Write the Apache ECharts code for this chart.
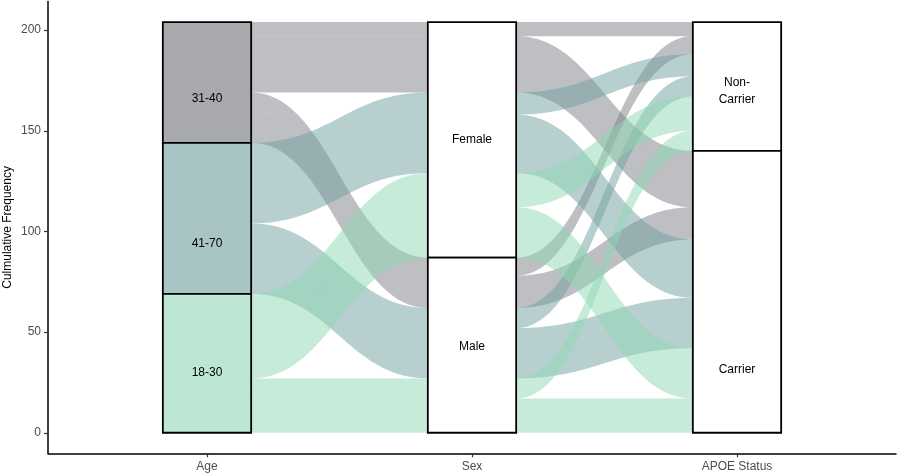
<!DOCTYPE html>
<html><head><meta charset="utf-8">
<script src="https://cdn.jsdelivr.net/npm/echarts@6/dist/echarts.min.js"></script>
<style>html,body{margin:0;padding:0;background:#fff}#c{width:899px;height:476px}</style>
</head><body><div id="c"></div>
<script>
const axisNames = ['Age', 'Sex', 'APOE Status'];
const ageLevels = ['31-40', '41-70', '18-30'];
const sexLevels = ['Female', 'Male'];
const apoeLevels = ['Non-\nCarrier', 'Carrier'];
// counts per age group: Female/Non-Carrier, Female/Carrier, Male/Non-Carrier, Male/Carrier
const counts3140 = [7, 28, 9, 16];
const counts4170 = [11, 29, 10, 25];
const counts1830 = [17, 25, 10, 17];
const yTicks = [0, 50, 100, 150, 200];
// label anchor heights
const ageLabelY = [166, 94, 30];
const sexLabelY = [145.5, 43];
const apoeLabelY = [169.5, 31.5];

const ageFill = ['#a8a9ad', '#a8c4c4', '#bde7d3'];
const flowFill = ['rgba(126,127,134,0.5)', 'rgba(113,159,161,0.5)', 'rgba(141,217,179,0.5)'];
const W = 1/3;
const K = 0.45;

const countsByAge = [counts3140, counts4170, counts1830];
const alluvia = [];
countsByAge.forEach((arr, a) => {
  arr.forEach((n, k) => { alluvia.push({a: a, s: Math.floor(k / 2), p: k % 2, n: n}); });
});
const total = alluvia.reduce((t, d) => t + d.n, 0);
const keyFns = [d => [d.a, d.s, d.p], d => [d.s, d.a, d.p], d => [d.p, d.a, d.s]];
const pos = alluvia.map(() => [null, null, null]);
keyFns.forEach((kf, ax) => {
  const idx = alluvia.map((d, i) => i).sort((i, j) => {
    const A = kf(alluvia[i]), B = kf(alluvia[j]);
    for (let t = 0; t < 3; t++) { if (A[t] !== B[t]) return A[t] - B[t]; }
    return 0;
  });
  let top = total;
  idx.forEach(i => { pos[i][ax] = [top, top - alluvia[i].n]; top -= alluvia[i].n; });
});

// flows
const flowData = [];
alluvia.forEach((d, i) => {
  for (let seg = 0; seg < 2; seg++) {
    flowData.push([seg + W / 2, seg + 1 - W / 2, pos[i][seg][0], pos[i][seg][1], pos[i][seg + 1][0], pos[i][seg + 1][1], d.a]);
  }
});

// strata
const strata = [];
const fields = ['a', 's', 'p'];
const levelSets = [ageLevels, sexLevels, apoeLevels];
const labelSets = [ageLabelY, sexLabelY, apoeLabelY];
levelSets.forEach((levels, ax) => {
  let top = total;
  levels.forEach((name, li) => {
    const n = alluvia.filter(d => d[fields[ax]] === li).reduce((t, d) => t + d.n, 0);
    strata.push({ax: ax, top: top, bottom: top - n, name: name, labelY: labelSets[ax][li], fill: ax === 0 ? ageFill[li] : '#ffffff'});
    top -= n;
  });
});
const strataData = strata.map(s => [s.ax, s.top, s.bottom, s.labelY]);

function bez(a, b, t) {
  const dx = b[0] - a[0];
  const c0 = a[0] + dx * K, c1 = b[0] - dx * K;
  const mt = 1 - t;
  const x = mt * mt * mt * a[0] + 3 * mt * mt * t * c0 + 3 * mt * t * t * c1 + t * t * t * b[0];
  const y = (mt * mt * mt + 3 * mt * mt * t) * a[1] + (3 * mt * t * t + t * t * t) * b[1];
  return [x, y];
}

function renderFlow(params, api) {
  const x0 = api.value(0), x1 = api.value(1);
  const p0t = api.coord([x0, api.value(2)]), p0b = api.coord([x0, api.value(3)]);
  const p1t = api.coord([x1, api.value(4)]), p1b = api.coord([x1, api.value(5)]);
  const N = 60, pts = [];
  for (let i = 0; i <= N; i++) pts.push(bez(p0t, p1t, i / N));
  for (let i = N; i >= 0; i--) pts.push(bez(p0b, p1b, i / N));
  return {type: 'polygon', shape: {points: pts}, style: {fill: flowFill[api.value(6)]}};
}

function renderStratum(params, api) {
  const s = strata[params.dataIndex];
  const ax = api.value(0);
  const tl = api.coord([ax - W / 2, api.value(1)]);
  const br = api.coord([ax + W / 2, api.value(2)]);
  const lp = api.coord([ax, api.value(3)]);
  return {
    type: 'group',
    children: [
      {type: 'rect', shape: {x: tl[0], y: tl[1], width: br[0] - tl[0], height: br[1] - tl[1]},
       style: {fill: s.fill, stroke: '#000', lineWidth: 1.8}},
      {type: 'text', style: {text: s.name, x: lp[0], y: lp[1], align: 'center', verticalAlign: 'middle',
       font: '12px "Liberation Sans", Arial, sans-serif', fill: '#000', lineHeight: 17}}
    ]
  };
}

const chart = echarts.init(document.getElementById('c'), null, {renderer: 'canvas'});
chart.setOption({
  animation: false,
  grid: {left: 48, right: 3, top: 1.5, bottom: 22.7, containLabel: false, outerBoundsMode: 'none'},
  xAxis: {
    type: 'value', min: -0.6, max: 2.6,
    splitLine: {show: false},
    axisLine: {show: true, onZero: false, lineStyle: {color: '#000', width: 1.5}},
    axisTick: {show: true, customValues: [0, 1, 2], length: 4, lineStyle: {color: '#333', width: 1.2}},
    axisLabel: {customValues: [0, 1, 2], formatter: v => axisNames[Math.round(v)], color: '#4d4d4d',
      fontSize: 12, fontFamily: '"Liberation Sans", Arial, sans-serif', margin: 7}
  },
  yAxis: {
    type: 'value', min: -10.2, max: 214.2,
    splitLine: {show: false},
    axisLine: {show: true, onZero: false, lineStyle: {color: '#000', width: 1.5}},
    axisTick: {show: true, customValues: yTicks, length: 4, lineStyle: {color: '#333', width: 1.2}},
    axisLabel: {customValues: yTicks, color: '#4d4d4d', fontSize: 12,
      fontFamily: '"Liberation Sans", Arial, sans-serif', margin: 7},
    name: 'Culmulative Frequency', nameLocation: 'middle', nameGap: 34, nameMoveOverlap: false,
    nameTextStyle: {color: '#000', fontSize: 12, fontFamily: '"Liberation Sans", Arial, sans-serif'}
  },
  series: [
    {type: 'custom', renderItem: renderFlow, data: flowData, z: 2, silent: true, clip: false},
    {type: 'custom', renderItem: renderStratum, data: strataData, z: 3, silent: true, clip: false}
  ]
});
</script></body></html>
